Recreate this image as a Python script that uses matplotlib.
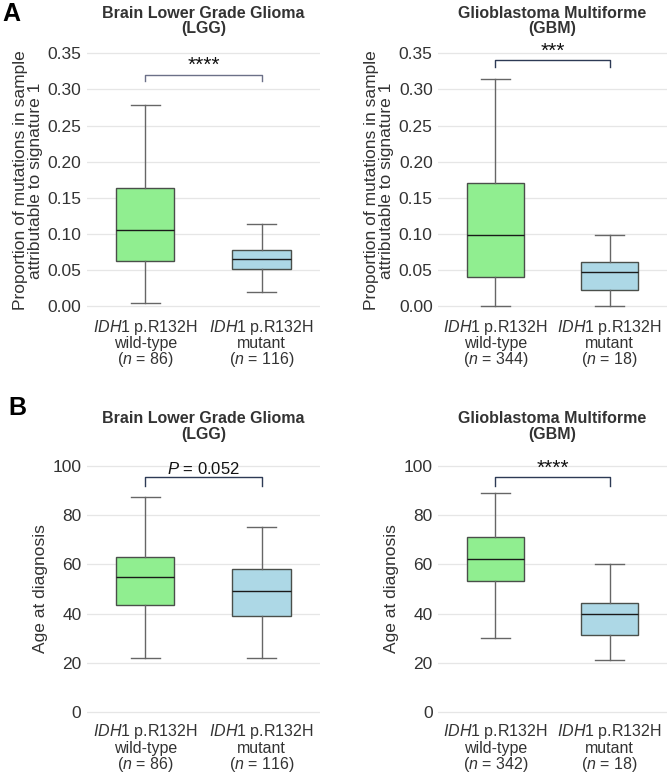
import matplotlib
matplotlib.use('Agg')
import matplotlib.pyplot as plt

plt.rcParams['font.family'] = ['Liberation Sans', 'DejaVu Sans']
plt.rcParams['mathtext.fontset'] = 'custom'
plt.rcParams['mathtext.rm'] = 'Liberation Sans'
plt.rcParams['mathtext.it'] = 'Liberation Sans:italic'

# box statistics: (low whisker, q1, median, q3, high whisker)
sig_lgg_wt = [0.004, 0.063, 0.105, 0.163, 0.278]
sig_lgg_mut = [0.020, 0.052, 0.066, 0.078, 0.114]
sig_gbm_wt = [0.001, 0.040, 0.099, 0.171, 0.315]
sig_gbm_mut = [0.001, 0.023, 0.048, 0.061, 0.099]

age_lgg_wt = [22.0, 43.6, 54.7, 62.8, 87.2]
age_lgg_mut = [22.0, 39.1, 49.1, 58.0, 75.1]
age_gbm_wt = [30.1, 53.4, 62.1, 71.0, 89.1]
age_gbm_mut = [21.1, 31.2, 39.7, 44.5, 60.2]

n_lgg = [86, 116]
n_gbm_sig = [344, 18]
n_gbm_age = [342, 18]

titles = ['Brain Lower Grade Glioma\n(LGG)', 'Glioblastoma Multiforme\n(GBM)']
sig_label = 'Proportion of mutations in sample\nattributable to signature 1'
age_label = 'Age at diagnosis'
sig_ticks = [0.00, 0.05, 0.10, 0.15, 0.20, 0.25, 0.30, 0.35]
age_ticks = [0, 20, 40, 60, 80, 100]

colors = ['#90EE90', '#ADD8E6']


def xlabels(n):
    return ['$\\mathit{IDH}$1 p.R132H\nwild-type\n($\\mathit{n}$ = %d)' % n[0],
            '$\\mathit{IDH}$1 p.R132H\nmutant\n($\\mathit{n}$ = %d)' % n[1]]


def draw(ax, groups, n, title, ylabel, ticks, ylim, tick_fmt, bracket, btext, bcolor, title_pad, bsize):
    stats = []
    for g in groups:
        stats.append({'whislo': g[0], 'q1': g[1], 'med': g[2], 'q3': g[3], 'whishi': g[4], 'fliers': []})
    bp = ax.bxp(stats, positions=[1, 2], widths=0.5, patch_artist=True, showfliers=False,
                boxprops=dict(edgecolor='#4a4f4a', linewidth=1.0),
                medianprops=dict(color='#1a1a1a', linewidth=1.0),
                whiskerprops=dict(color='#666666', linewidth=1.0),
                capprops=dict(color='#666666', linewidth=1.0),
                capwidths=0.25)
    for patch, c in zip(bp['boxes'], colors):
        patch.set_facecolor(c)
    ax.set_xlim(0.5, 2.5)
    ax.set_ylim(*ylim)
    ax.set_yticks(ticks)
    ax.set_yticklabels([tick_fmt % t for t in ticks])
    ax.set_xticks([1, 2])
    ax.set_xticklabels(xlabels(n), fontsize=11.5, color='#333333', linespacing=0.95)
    ax.tick_params(axis='y', length=0, labelsize=12.5, colors='#333333', pad=4)
    ax.tick_params(axis='x', length=0, labelsize=11.5, colors='#333333', pad=2)
    for s in ax.spines.values():
        s.set_visible(False)
    ax.grid(axis='y', color='#e6e6e6', linewidth=0.9)
    ax.set_axisbelow(True)
    ax.set_title(title, fontsize=11.5, fontweight='bold', color='#333333', pad=title_pad, linespacing=1.05)
    ax.set_ylabel(ylabel, fontsize=12.5, color='#333333', linespacing=1.0, labelpad=3)
    y, tip = bracket
    ax.plot([1, 1, 2, 2], [tip, y, y, tip], color=bcolor, linewidth=1.0, clip_on=False)
    ax.text(1.5, y, btext, ha='center', va='bottom', fontsize=bsize, color='#111111')


fig = plt.figure(figsize=(6.69, 7.73), dpi=100)
ax1 = fig.add_axes([0.130, 0.5925, 0.348, 0.348])
ax2 = fig.add_axes([0.655, 0.5925, 0.342, 0.348])
ax3 = fig.add_axes([0.130, 0.0690, 0.348, 0.3380])
ax4 = fig.add_axes([0.655, 0.0690, 0.342, 0.3380])

draw(ax1, [sig_lgg_wt, sig_lgg_mut], n_lgg, titles[0], sig_label, sig_ticks, (-0.012, 0.36), '%.2f',
     (0.320, 0.311), '****', '#6b7088', 9, 15)
draw(ax2, [sig_gbm_wt, sig_gbm_mut], n_gbm_sig, titles[1], sig_label, sig_ticks, (-0.012, 0.36), '%.2f',
     (0.340, 0.3315), '***', '#2d3a55', 9, 15)
draw(ax3, [age_lgg_wt, age_lgg_mut], n_lgg, titles[0], age_label, age_ticks, (-3, 103), '%d',
     (95.3, 91.9), '$\\mathit{P}$ = 0.052', '#2d3a55', 14, 12)
draw(ax4, [age_gbm_wt, age_gbm_mut], n_gbm_age, titles[1], age_label, age_ticks, (-3, 103), '%d',
     (95.3, 91.9), '****', '#2d3a55', 14, 15)

fig.text(0.003, 0.997, 'A', fontsize=18, fontweight='bold', ha='left', va='top')
fig.text(0.012, 0.488, 'B', fontsize=18, fontweight='bold', ha='left', va='top')

fig.savefig('out.png', dpi=100)
